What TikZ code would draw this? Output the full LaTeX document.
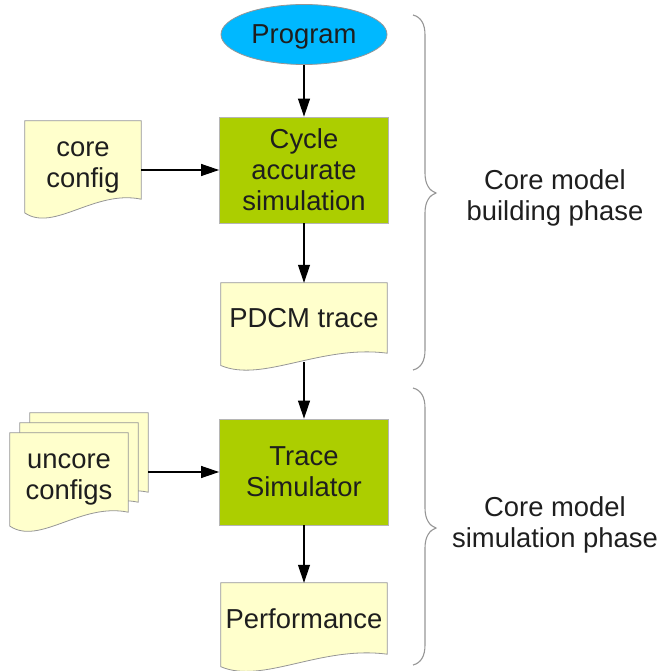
\documentclass[tikz,border=0pt]{standalone}
\usepackage{fontspec}
\setmainfont{Liberation Sans}
\usetikzlibrary{arrows.meta,calc,backgrounds,shapes.geometric}
\definecolor{progblue}{RGB}{0,184,255}
\definecolor{boxgreen}{RGB}{172,206,0}
\definecolor{docyellow}{RGB}{255,255,204}
\definecolor{edgegray}{RGB}{150,150,150}
\definecolor{txt}{RGB}{30,30,30}
% #1: extra height of the node below the body, #2: node name
\newcommand\docshape[2][0pt]{%
  \path let \p1=(#2.north west), \p2=(#2.south east), \n1={\x2-\x1}, \n2={\y1-\y2-#1} in
    [docline] (\p1) -- (\x2,\y1) -- (\x2,{\y1-\n2})
    .. controls ({\x1+0.6*\n1},{\y1-0.875*\n2}) and ({\x1+0.25*\n1},{\y1-1.425*\n2}) ..
    (\x1,{\y1-1.175*\n2}) -- cycle;}
\begin{document}
\begin{tikzpicture}[x=1pt,y=-1pt,
  lbl/.style={font=\fontsize{27.4}{31}\selectfont, text=txt, align=center, inner sep=0pt},
  prog/.style={lbl, ellipse, draw=edgegray, fill=progblue, line width=0.8pt, minimum width=166pt, minimum height=60pt, text depth=0pt},
  proc/.style={lbl, rectangle, draw=edgegray!70, fill=boxgreen, line width=0.8pt, minimum width=169pt, minimum height=106pt},
  docnode/.style={lbl, rectangle, minimum width=#1},
  docline/.style={draw=edgegray, fill=docyellow, line width=0.8pt},
  arr/.style={draw=black, line width=1.1pt, -{Triangle[length=18pt,width=12pt]}},
  bracestyle/.style={draw=edgegray, line width=1.1pt}]
\useasboundingbox (0,0) rectangle (659,671);

\node[prog] (program) at (304,34.5) {Program};
\node[proc] (cycle) at (304,170) {Cycle\\accurate\\simulation};
\node[docnode=116pt, minimum height=92pt] (cfg) at (83,167) {core\\config};
\node[docnode=166pt, minimum height=70pt] (pdcm) at (304,318) {PDCM trace};
\node[proc] (trace) at (304,472) {Trace\\Simulator};
\node[docnode=118pt, minimum height=92pt] (back) at (89,459) {};
\node[docnode=118pt, minimum height=92pt] (mid) at (79,469) {};
\node[docnode=118pt, minimum height=92pt] (uncore) at (69,479) {uncore\\configs};
\node[docnode=166pt, minimum height=71pt] (perf) at (304,618.5) {Performance};

\node[lbl] (phase1) at (555,197.5) {Core model\\building phase};
\node[lbl] (phase2) at (555,525) {Core model\\simulation phase};

\begin{scope}[on background layer]
  \docshape[14pt]{cfg}
  \docshape{pdcm}
  \docshape[13pt]{back}
  \docshape[13pt]{mid}
  \docshape[13pt]{uncore}
  \docshape{perf}
\end{scope}

\coordinate (pdcmb) at ($(pdcm.north)!1.13!(pdcm.south)$);

\draw[arr] (program.south) -- (cycle.north);
\draw[arr] (cycle.west -| cfg.east) -- (cycle.west);
\draw[arr] (cycle.south) -- (pdcm.north);
\draw[arr] (pdcmb) -- (trace.north);
\draw[arr] (trace.west -| back.east) -- (trace.west);
\draw[arr] (trace.south) -- (perf.north);

\draw[bracestyle] (413,15) .. controls (421,17) and (425,24) .. (425,35) -- (425,173)
  .. controls (425,185) and (430,191) .. (436,193)
  .. controls (430,195) and (425,201) .. (425,213) -- (425,350)
  .. controls (425,361) and (421,368) .. (413,370);
\draw[bracestyle] (413,388) .. controls (421,390) and (425,397) .. (425,408) -- (425,508)
  .. controls (425,520) and (430,526) .. (436,528)
  .. controls (430,530) and (425,536) .. (425,548) -- (425,645)
  .. controls (425,656) and (421,663) .. (413,665);
\end{tikzpicture}
\end{document}
